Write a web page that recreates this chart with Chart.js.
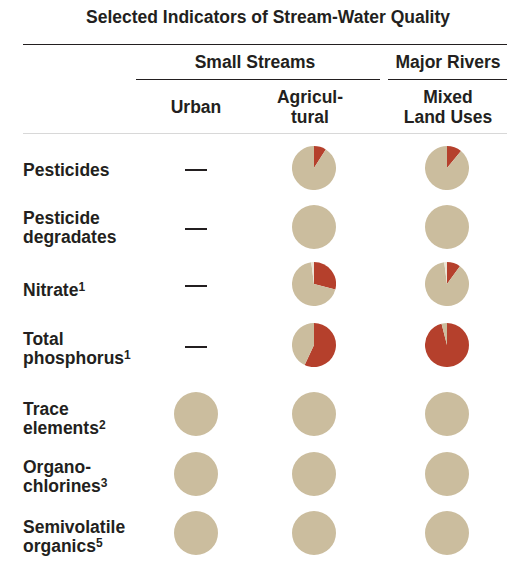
<!DOCTYPE html>
<html lang="en">
<head>
  <meta charset="UTF-8" />
  <title>Selected Indicators of Stream-Water Quality</title>
  <script src="https://cdn.jsdelivr.net/npm/chart.js"></script>
  <style>
    body {
      margin: 0;
      width: 507px;
      height: 569px;
      background: #fff;
      font-family: 'Liberation Sans', Arial, sans-serif;
      font-weight: bold;
      font-size: 17.5px;
      color: #231f20;
      position: relative;
      overflow: hidden;
    }
    .t { position: absolute; white-space: nowrap; line-height: 19px; }
    .c { transform: translateX(-50%); text-align: center; }
    .rule { position: absolute; height: 1px; background: #231f20; }
    .dash { position: absolute; width: 22px; height: 2px; background: #231f20; }
    sup { font-size: 12px; line-height: 0; vertical-align: 5px; }
    canvas { position: absolute; }
  </style>
</head>
<body>
  <div class="t c" style="left:268px; top:8px;">Selected Indicators of Stream-Water Quality</div>
  <div class="rule" style="left:23px; top:44px; width:484px;"></div>

  <div class="t c" style="left:255px; top:53px;">Small Streams</div>
  <div class="t c" style="left:448px; top:53px;">Major Rivers</div>
  <div class="rule" style="left:136px; top:79px; width:244px;"></div>
  <div class="rule" style="left:388px; top:79px; width:119px;"></div>

  <div class="t c" style="left:196px; top:98px;">Urban</div>
  <div class="t c" style="left:310px; top:87px; line-height:20px;">Agricul-<br>tural</div>
  <div class="t c" style="left:448px; top:87px; line-height:20px;">Mixed<br>Land Uses</div>
  <div class="rule" style="left:23px; top:133px; width:484px; background:#d8d8d8;"></div>

  <div id="labels"></div>
  <div id="cells"></div>

  <script>
    // rows of the table
    const rowLabels = [
      'Pesticides',
      'Pesticide<br>degradates',
      'Nitrate<sup>1</sup>',
      'Total<br>phosphorus<sup>1</sup>',
      'Trace<br>elements<sup>2</sup>',
      'Organo-<br>chlorines<sup>3</sup>',
      'Semivolatile<br>organics<sup>5</sup>'
    ];
    // percent of sites above guideline (red), null = not assessed (dash)
    const urbanHigh = [null, null, null, null, 0, 0, 0];
    const agHigh = [9, 0, 29, 57, 0, 0, 0];
    const mixedHigh = [11, 0, 10, 96, 0, 0, 0];
    // small light sliver of sites without data
    const agNoData = [0, 0, 2, 0, 0, 0, 0];
    const mixedNoData = [0, 0, 2, 0, 0, 0, 0];

    const rowY = [168, 227, 284, 345, 414, 474, 533];
    const labelTop = [161, 209, 281, 330, 400, 458, 518];
    const colX = [196, 314, 447];
    const R = 22;

    const labels = document.getElementById('labels');
    rowLabels.forEach((txt, i) => {
      const d = document.createElement('div');
      d.className = 't';
      d.style.left = '23px';
      d.style.top = labelTop[i] + 'px';
      d.innerHTML = txt;
      labels.appendChild(d);
    });

    const cells = document.getElementById('cells');
    const columns = [
      { high: urbanHigh, none: urbanHigh.map(() => 0) },
      { high: agHigh, none: agNoData },
      { high: mixedHigh, none: mixedNoData }
    ];

    columns.forEach((col, c) => {
      col.high.forEach((v, r) => {
        if (v === null) {
          const d = document.createElement('div');
          d.className = 'dash';
          d.style.left = (colX[c] - 11) + 'px';
          d.style.top = (rowY[r] + 1) + 'px';
          cells.appendChild(d);
          return;
        }
        const cv = document.createElement('canvas');
        cv.width = R * 2;
        cv.height = R * 2;
        cv.style.left = (colX[c] - R) + 'px';
        cv.style.top = (rowY[r] - R) + 'px';
        cells.appendChild(cv);
        const rest = 100 - v - col.none[r];
        new Chart(cv, {
          type: 'pie',
          data: {
            labels: ['Above guideline', 'Below guideline', 'No data'],
            datasets: [{
              data: [v, rest, col.none[r]],
              backgroundColor: ['#b5402c', '#cbbd9e', '#ece5d6'],
              borderWidth: 0
            }]
          },
          options: {
            responsive: false,
            animation: false,
            layout: { padding: 0 },
            plugins: { legend: { display: false }, tooltip: { enabled: false } }
          }
        });
      });
    });
  </script>
</body>
</html>
